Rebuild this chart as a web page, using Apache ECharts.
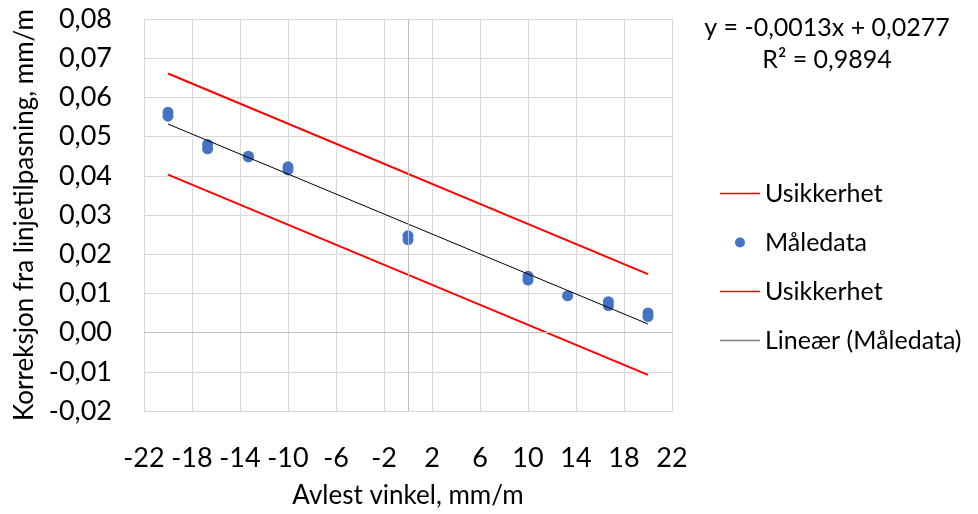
<!DOCTYPE html>
<html>
<head>
<meta charset="utf-8">
<script src="https://cdn.jsdelivr.net/npm/echarts@6/dist/echarts.min.js"></script>
<style>html,body{margin:0;padding:0;background:#fff}#c{width:978px;height:514px}</style>
</head>
<body>
<div id="c"></div>
<script>
// Measured data (x = avlest vinkel, y = korreksjon)
var maaleX = [-20, -20, -16.7, -16.7, -13.3, -13.3, -10, -10, 0, 0, 10, 10, 13.3, 16.7, 16.7, 20, 20];
var maaleY = [0.0562, 0.0552, 0.0480, 0.0469, 0.0450, 0.0448, 0.0423, 0.0415, 0.0247, 0.0237, 0.0144, 0.0134, 0.0094, 0.0079, 0.0069, 0.0050, 0.0041];
// Uncertainty lines (endpoints)
var usikkerX = [-20, 20];
var usikkerOvreY = [0.0661, 0.0149];
var usikkerNedreY = [0.0403, -0.0108];
// Linear trendline endpoints
var trendX = [-20, 20];
var trendY = [0.0532, 0.0022];
// Axis ticks
var xMin = -22, xMax = 22, xStep = 4;
var yMin = -0.02, yMax = 0.08, yStep = 0.01;
var legendNames = ['Usikkerhet', 'Måledata', 'Usikkerhet ', 'Lineær (Måledata)'];
var equationText = 'y = -0,0013x + 0,0277';
var r2Text = 'R² = 0,9894';

function pairs(xs, ys) { return xs.map(function (x, i) { return [x, ys[i]]; }); }
function fmtY(v) { return v.toFixed(2).replace('.', ','); }

var FONT = 'Lato, "Open Sans", sans-serif';
var LINE_ICON = 'path://M0,0H40V1.5H0Z';
var chart = echarts.init(document.getElementById('c'));
chart.setOption({
  animation: false,
  textStyle: { fontFamily: FONT },
  grid: { left: 144, top: 19, width: 528, height: 394, containLabel: false },
  xAxis: {
    type: 'value', min: xMin, max: xMax, interval: xStep,
    name: 'Avlest vinkel, mm/m', nameLocation: 'middle', nameGap: 72,
    nameTextStyle: { fontFamily: FONT, fontSize: 26, color: '#000' },
    axisLine: { show: false }, axisTick: { show: false },
    axisLabel: { fontFamily: FONT, fontSize: 27, color: '#000', margin: 34 },
    splitLine: { show: true, lineStyle: { color: '#d9d9d9', width: 1 } }
  },
  yAxis: {
    type: 'value', min: yMin, max: yMax, interval: yStep,
    name: 'Korreksjon fra linjetilpasning, mm/m', nameLocation: 'middle', nameGap: 100,
    nameTextStyle: { fontFamily: FONT, fontSize: 26, color: '#000' },
    axisLine: { show: false }, axisTick: { show: false },
    axisLabel: { fontFamily: FONT, fontSize: 27, color: '#000', margin: 32, formatter: fmtY },
    splitLine: { show: true, lineStyle: { color: '#d9d9d9', width: 1 } }
  },
  legend: {
    orient: 'vertical', left: 715, top: 174,
    itemWidth: 40, itemHeight: 10, itemGap: 20,
    textStyle: { fontFamily: FONT, fontSize: 25, color: '#000', lineHeight: 29 },
    data: [
      { name: legendNames[0], icon: LINE_ICON, itemStyle: { color: '#ff0000' } },
      { name: legendNames[1], icon: 'circle', itemStyle: { color: '#4472c4' } },
      { name: legendNames[2], icon: LINE_ICON, itemStyle: { color: '#ff0000' } },
      { name: legendNames[3], icon: LINE_ICON, itemStyle: { color: '#7f7f7f' } }
    ]
  },
  graphic: [
    { type: 'text', x: 827, y: 28, style: { text: equationText, font: '25px ' + FONT, fill: '#000', textAlign: 'center', textVerticalAlign: 'middle' } },
    { type: 'text', x: 827, y: 60, style: { text: r2Text, font: '25px ' + FONT, fill: '#000', textAlign: 'center', textVerticalAlign: 'middle' } }
  ],
  series: [
    {
      name: 'zero', type: 'line', data: [], silent: true,
      markLine: { silent: true, symbol: 'none', label: { show: false },
        lineStyle: { color: '#bfbfbf', width: 1, type: 'solid' },
        data: [{ xAxis: 0 }, { yAxis: 0 }] }
    },
    {
      name: legendNames[0], type: 'line', data: pairs(usikkerX, usikkerOvreY),
      symbol: 'none', lineStyle: { color: '#ff0000', width: 2 }, itemStyle: { color: '#ff0000' }
    },
    {
      name: legendNames[1], type: 'scatter', data: pairs(maaleX, maaleY),
      symbol: 'circle', symbolSize: 11, itemStyle: { color: '#4472c4', opacity: 1 }
    },
    {
      name: legendNames[2], type: 'line', data: pairs(usikkerX, usikkerNedreY),
      symbol: 'none', lineStyle: { color: '#ff0000', width: 2 }, itemStyle: { color: '#ff0000' }
    },
    {
      name: legendNames[3], type: 'line', data: pairs(trendX, trendY),
      symbol: 'none', lineStyle: { color: '#000000', width: 1 }, itemStyle: { color: '#7f7f7f' }, z: 3
    }
  ]
});
</script>
</body>
</html>
